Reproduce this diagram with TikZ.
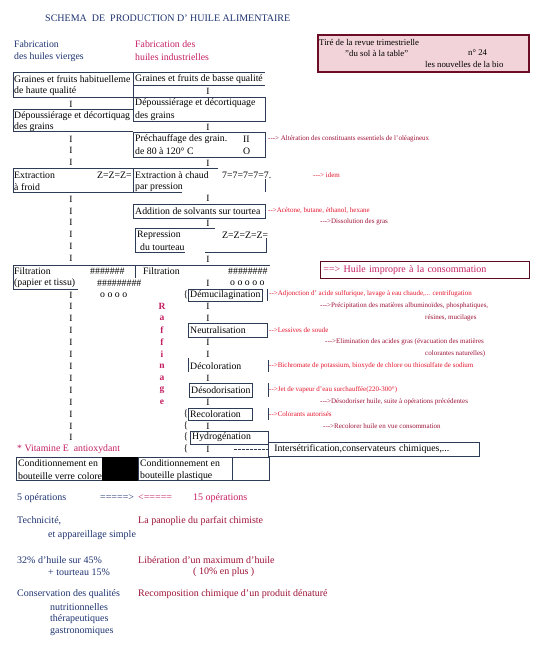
\documentclass[tikz,border=0pt]{standalone}
\usepackage{fontspec}
\setmainfont{Liberation Serif}
\usetikzlibrary{arrows,shapes}
\definecolor{vierge}{HTML}{1E3370}
\definecolor{indus}{HTML}{C41E62}
\definecolor{rouge}{HTML}{E3142C}
\definecolor{bordeaux}{HTML}{9C1235}
\definecolor{cadre}{HTML}{2E3B55}
\definecolor{rose}{HTML}{F2D3DA}
\newcommand{\fl}{-{}-{}>}
\newcommand{\fll}{-{}-{}-{}>}

\begin{document}
\begin{tikzpicture}[x=1pt,y=-1pt,
 every node/.style={inner sep=0pt},
 txt/.style={right,font=\fontsize{9.8}{11}\selectfont},
 bar/.style={font=\fontsize{9.5}{11}\selectfont},
 note/.style={right,font=\fontsize{7}{8}\selectfont,text=rouge},
 suite/.style={right,font=\fontsize{7}{8}\selectfont,text=bordeaux},
 bas/.style={right,font=\fontsize{10}{12}\selectfont},
 trait/.style={draw=cadre,line width=0.6pt}]
\useasboundingbox (0,0) rectangle (543,662);

% titre et en-tetes
\draw (45,18) node[right,font=\fontsize{10}{12}\selectfont,text=vierge](titre){SCHEMA\ \ DE\ \ PRODUCTION D' HUILE ALIMENTAIRE}
(14,44) node[txt,text=vierge](v1){Fabrication}
(14,57) node[txt,text=vierge](v2){des huiles vierges}
(135,44) node[txt,text=indus](i1){Fabrication des}
(135,57) node[txt,text=indus](i2){huiles industrielles};

% encart revue
\node[draw=bordeaux!70!black,fill=rose,line width=1.6pt,anchor=north west,
 minimum width=211pt,minimum height=37pt](revue) at (317,34){};
\draw (319,42) node[right,font=\fontsize{8.8}{10}\selectfont](r1){Tiré de la revue trimestrielle}
(345,53) node[right,font=\fontsize{8.8}{10}\selectfont](r2){"du sol à la table"}
(468,53) node[right,font=\fontsize{8.8}{10}\selectfont](r3){n° 24}
(425,64) node[right,font=\fontsize{8.8}{10}\selectfont](r4){les nouvelles de la bio};

% cadres
\draw[trait] (13,72) -- (265,72) (133,72) -- (133,97) (13,72) -- (13,97) -- (133,97)
 (133,85) -- (265,85);
\draw[trait] (133,97) rectangle (265,121);
\draw[trait] (133,109) -- (13,109) -- (13,131) -- (133,131);
\draw[trait] (133,132) rectangle (265,157);
\draw[trait] (13,168) rectangle (133,192);
\draw[trait] (133,168) -- (218,168) (133,168) -- (133,192) -- (182,192) (265,179) -- (265,192);
\draw[trait] (133,204) rectangle (265,218);
\draw[trait] (215,228) -- (135,228) -- (135,252) -- (185,252) (205,252) -- (266,252) -- (266,238);
\draw[trait] (13,265) -- (270,265) (13,265) -- (13,289) -- (78,289) (135,265) -- (135,278);
\draw[trait] (188,289) rectangle (262,301) (267,289) -- (267,301);
\draw[trait] (188,337) -- (188,323) -- (267,323) -- (267,337) -- (188,337);
\draw[trait] (188,358) -- (188,372) (268,360) -- (268,372);
\draw[trait] (189,383) rectangle (252,397) (268,383) -- (268,397);
\draw[trait] (188,408) rectangle (252,420) (268,408) -- (268,420);
\draw[trait] (190,431) rectangle (268,444);

% colonne vierge
\draw (14,79) node[txt](a1){Graines et fruits habituelleme}
(14,91) node[txt](a2){de haute qualité}
(14,116) node[txt](a3){Dépoussiérage et décortiquag}
(14,127) node[txt](a4){des grains}
(14,175) node[txt](a5){Extraction}
(14,187) node[txt](a6){à froid}
(97,175) node[txt](a7){Z=Z=Z=}
(14,271) node[txt](a8){Filtration}
(14,283) node[txt](a9){(papier et tissu)}
(90,271) node[txt](a10){\#\#\#\#\#\#\#}
(97,283) node[txt](a11){\#\#\#\#\#\#\#\#\#}
(100,295) node[txt](a12){o o o o};

% colonne industrielle
\draw (135,79) node[txt](b1){Graines et fruits de basse qualité}
(135,103) node[txt](b2){Dépoussiérage et décortiquage}
(135,116) node[txt](b3){des grains}
(135,139) node[txt](b4){Préchauffage des grain.}
(243,139) node[txt](b5){II}
(135,151) node[txt](b6){de 80 à 120° C}
(243,151) node[txt](b7){O}
(135,175) node[txt](b8){Extraction à chaud}
(135,187) node[txt](b9){par pression}
(222,175) node[txt](b10){7=7=7=7=7.}
(135,211) node[txt](b11){Addition de solvants sur tourtea}
(137,235) node[txt](b12){Repression}
(140,247) node[txt](b13){du tourteau}
(222,235) node[txt](b14){Z=Z=Z=Z=}
(143,271) node[txt](b15){Filtration}
(228,271) node[txt](b16){\#\#\#\#\#\#\#\#}
(230,283) node[txt](b17){o o o o o}
(190,295) node[txt](b18){Démucilagination}
(190,330) node[txt](b19){Neutralisation}
(190,366) node[txt](b20){Décoloration}
(191,390) node[txt](b21){Désodorisation}
(190,414) node[txt](b22){Recoloration}
(192,437) node[txt](b23){Hydrogénation};

% les I
\draw (71,104) node[bar](g1){I} (71,139) node[bar](g2){I} (71,150) node[bar](g3){I}
(71,162) node[bar](g4){I} (71,199) node[bar](g5){I} (71,211) node[bar](g6){I}
(71,222) node[bar](g7){I} (71,234) node[bar](g8){I} (71,246) node[bar](g9){I}
(71,258) node[bar](g10){I} (71,295) node[bar](g11){I} (71,306) node[bar](g12){I}
(71,318) node[bar](g13){I} (71,330) node[bar](g14){I} (71,342) node[bar](g15){I}
(71,354) node[bar](g16){I} (71,366) node[bar](g17){I} (71,378) node[bar](g18){I}
(71,390) node[bar](g19){I} (71,402) node[bar](g20){I} (71,414) node[bar](g21){I}
(71,426) node[bar](g22){I} (71,437) node[bar](g23){I};
\draw (208,91) node[bar](m1){I} (208,127) node[bar](m2){I} (208,163) node[bar](m3){I}
(208,198) node[bar](m4){I} (208,223) node[bar](m5){I} (208,259) node[bar](m6){I}
(208,283) node[bar](m7){I} (208,306) node[bar](m8){I} (208,318) node[bar](m9){I}
(208,342) node[bar](m10){I} (208,354) node[bar](m11){I} (208,378) node[bar](m12){I}
(208,402) node[bar](m13){I} (208,426) node[bar](m14){I} (208,449) node[bar](m15){I};
\draw (186,295) node[bar](c1){\{} (186,414) node[bar](c2){\{} (186,426) node[bar](c3){\{}
(186,437) node[bar](c4){\{} (186,449) node[bar](c5){\{};

% Raffinage
\draw (162,306) node[bar,text=indus](f1){\textbf{R}} (162,318) node[bar,text=indus](f2){\textbf{a}}
(162,330) node[bar,text=indus](f3){\textbf{f}} (162,342) node[bar,text=indus](f4){\textbf{f}}
(162,354) node[bar,text=indus](f5){\textbf{i}} (162,366) node[bar,text=indus](f6){\textbf{n}}
(162,378) node[bar,text=indus](f7){\textbf{a}} (162,390) node[bar,text=indus](f8){\textbf{g}}
(162,402) node[bar,text=indus](f9){\textbf{e}};

% remarques
\draw (268,139) node[suite](n1){\fll\ Altération des constituants essentiels de l'oléagineux}
(313,175) node[note](n2){\fll\ idem}
(268,211) node[note](n3){\fl Acétone, butane, éthanol, hexane}
(320,222) node[suite](n4){\fll Dissolution des gras}
(269,294) node[note](n5){\fl Adjonction d' acide sulfurique, lavage à eau chaude,... centrifugation}
(320,306) node[suite](n6){\fll Précipitation des matières albuminoïdes, phosphatiques,}
(425,318) node[suite](n7){résines, mucilages}
(269,330) node[note](n8){\fl Lessives de soude}
(325,342) node[suite](n9){\fll Elimination des acides gras (évacuation des matières}
(425,354) node[suite](n10){colorantes naturelles)}
(269,366) node[note](n11){\fl Bichromate de potassium, bioxyde de chlore ou thiosulfate de sodium}
(269,390) node[note](n12){\fl Jet de vapeur d'eau surchauffée(220-300°)}
(320,402) node[suite](n13){\fll Désodoriser huile, suite à opérations précédentes}
(269,414) node[note](n14){\fl Colorants autorisés}
(323,426) node[suite](n15){\fll Recolorer huile en vue consommation};

\node[draw=bordeaux!60!black,line width=0.8pt,right,inner xsep=3pt,minimum height=17pt,
 text width=203pt,align=left,text=indus,font=\fontsize{10}{12}\selectfont](impropre)
 at (320,270){==> Huile impropre à la consommation};
\node[draw=cadre,line width=0.6pt,right,inner xsep=6pt,minimum height=14pt,
 text width=199pt,align=left,font=\fontsize{9.8}{11}\selectfont](inter)
 at (268,449){Intersétrification,conservateurs chimiques,...};
\draw[trait,dash pattern=on 3pt off 1pt] ([xshift=24pt]m15.east) -- (inter.west);

% conditionnement
\draw (17,449) node[txt,text=indus](vit){* Vitamine E\ \ antioxydant}
(18,463) node[txt](d1){Conditionnement en}
(18,476) node[txt](d2){bouteille verre colore}
(140,463) node[txt](d3){Conditionnement en}
(140,476) node[txt](d4){bouteille plastique};
\draw[trait] (16,457) rectangle (102,480) (138,457) rectangle (269,480) (232,457) -- (232,480);
\fill[black] (102,457) rectangle (138,481);

% bilan
\draw (17,498) node[bas,text=vierge](e1){5 opérations}
(100,498) node[bas,text=vierge](e2){=====>}
(138,498) node[bas,text=indus](e3){<=====}
(193,498) node[bas,text=indus](e4){15 opérations}
(17,521) node[bas,text=vierge](e5){Technicité,}
(48,535) node[bas,text=vierge](e6){et appareillage simple}
(138,521) node[bas,text=bordeaux](e7){La panoplie du parfait chimiste}
(17,560) node[bas,text=vierge](e8){32\% d'huile sur 45\%}
(48,572) node[bas,text=vierge](e9){+ tourteau 15\%}
(138,560) node[bas,text=bordeaux](e10){Libération d'un maximum d'huile}
(193,572) node[bas,text=bordeaux](e11){( 10\% en plus )}
(17,594) node[bas,text=vierge](e12){Conservation des qualités}
(50,607) node[bas,text=vierge](e13){nutritionnelles}
(50,619) node[bas,text=vierge](e14){thérapeutiques}
(50,631) node[bas,text=vierge](e15){gastronomiques}
(138,594) node[bas,text=bordeaux](e16){Recomposition chimique d'un produit dénaturé};
\end{tikzpicture}
\end{document}
